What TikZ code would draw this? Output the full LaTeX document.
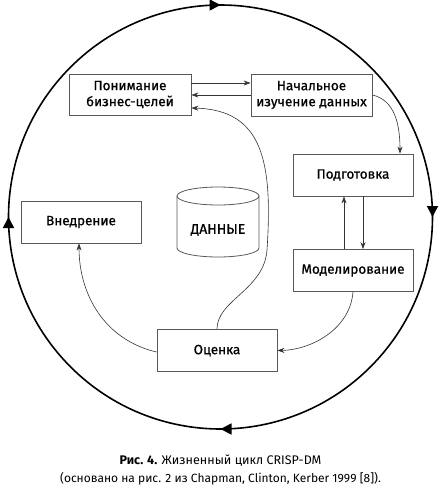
\documentclass[tikz,border=0pt]{standalone}
\usepackage{fontspec}
\setmainfont{Fira Sans}
\newfontfamily\boxfont{Fira Sans}[FakeBold=0.8]
\usetikzlibrary{arrows.meta,decorations.markings}
\begin{document}
\begin{tikzpicture}[x=1pt,y=-1pt,
  box/.style={draw=black!65, line width=0.8pt, minimum width=120pt, minimum height=42pt,
    font=\boxfont\fontsize{13.5}{16}\selectfont, align=center, inner sep=0pt},
  conn/.style={draw=black!80, line width=0.6pt, -{Stealth[length=7pt,width=5pt]}},
  cyc/.style={line width=1.6pt, postaction={decorate}, decoration={markings,
    mark=at position 0.125 with {\arrow{Triangle[length=11pt,width=11pt]}},
    mark=at position 0.375 with {\arrow{Triangle[length=11pt,width=11pt]}},
    mark=at position 0.625 with {\arrow{Triangle[length=11pt,width=11pt]}},
    mark=at position 0.875 with {\arrow{Triangle[length=11pt,width=11pt]}}}}
]
\useasboundingbox (0,0) rectangle (441,488);
% cycle circle
\draw[cyc] (220.5,217) ++(45:212) arc[start angle=45, end angle=405, radius=212];
% boxes
\node[box, minimum width=122pt, minimum height=41pt] (A) at (130,94.5) {Понимание\\бизнес-целей};
\node[box, minimum width=121pt] (B) at (311.5,95) {Начальное\\изучение данных};
\node[box] (C) at (353,175) {Подготовка};
\node[box] (D) at (353,270.5) {Моделирование};
\node[box] (E) at (81,222) {Внедрение};
\node[box] (F) at (217,350.5) {Оценка};
% data cylinder
\draw[black!65, line width=0.8pt] (218,196) ellipse [x radius=41, y radius=9];
\draw[black!65, line width=0.8pt] (177,196) -- (177,248) arc[start angle=180, end angle=0, x radius=41, y radius=9] -- (259,196);
\node[font=\boxfont\fontsize{14}{16}\selectfont] (data) at (218,230) {ДАННЫЕ};
% connectors
\draw[conn] (A.east |- 0,83) -- (B.west |- 0,83);
\draw[conn] (B.west |- 0,95) -- (A.east |- 0,95);
\draw[conn] (B.east |- 0,95) .. controls (395,100) and (400,125) .. (C.north -| 400,0);
\draw[conn] (D.north -| 344,0) -- (C.south -| 344,0);
\draw[conn] (C.south -| 363,0) -- (D.north -| 363,0);
\draw[conn] (D.south) .. controls (350,330) and (310,350) .. (F.east);
\draw[conn] (F.west |- 0,352) .. controls (105,340) and (79,295) .. (E.south -| 79,0);
\draw[conn] (F.north) .. controls (217,300) and (264,290) .. (267,250)
  .. controls (273,160) and (262,110) .. (A.east |- 0,108);
% caption
\node[font=\fontsize{12.5}{15}\selectfont] (cap1) at (220.5,461) {\textbf{Рис. 4.} Жизненный цикл CRISP-DM};
\node[font=\fontsize{12}{15}\selectfont] (cap2) at (220.5,479) {(основано на рис. 2 из Chapman, Clinton, Kerber 1999 [8]).};
\end{tikzpicture}
\end{document}
